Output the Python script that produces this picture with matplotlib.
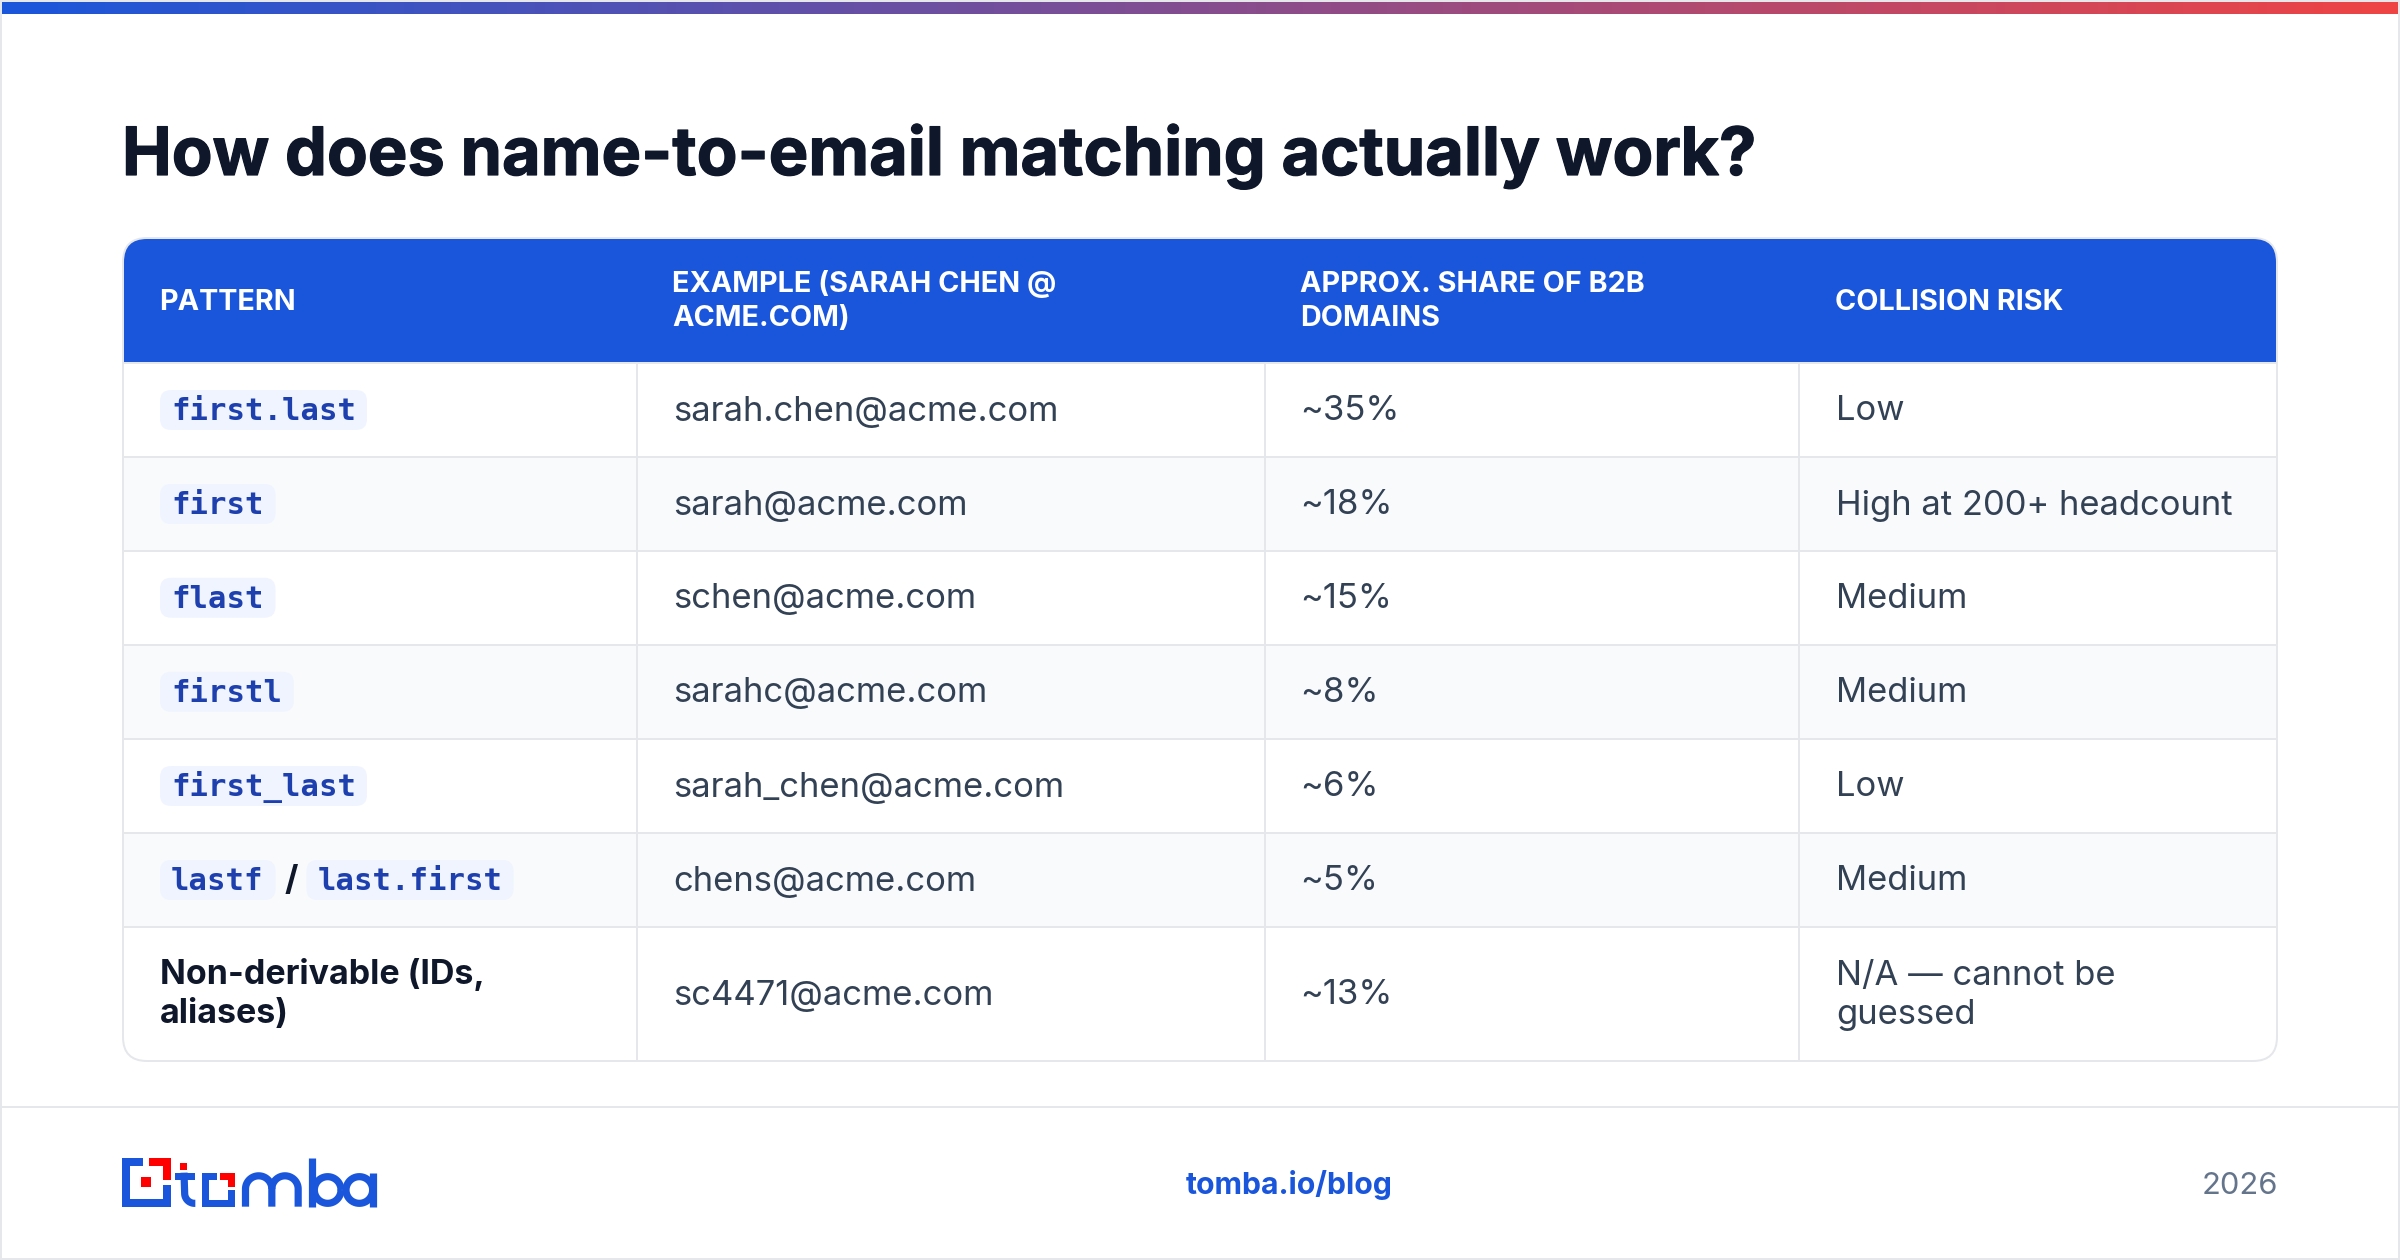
import numpy as np
import matplotlib
matplotlib.use("Agg")
import matplotlib.pyplot as plt
from matplotlib.colors import LinearSegmentedColormap
from matplotlib.patches import FancyBboxPatch, Rectangle
from matplotlib import patheffects

TITLE = "How does name-to-email matching actually work?"
HEADERS = ["PATTERN", "EXAMPLE (SARAH CHEN @\nACME.COM)", "APPROX. SHARE OF B2B\nDOMAINS", "COLLISION RISK"]
PATTERNS = [["first.last"], ["first"], ["flast"], ["firstl"], ["first_last"], ["lastf", "last.first"]]
LAST_PATTERN = "Non-derivable (IDs,\naliases)"
EXAMPLES = ["sarah.chen@acme.com", "sarah@acme.com", "schen@acme.com", "sarahc@acme.com",
            "sarah_chen@acme.com", "chens@acme.com", "sc4471@acme.com"]
SHARES = ["~35%", "~18%", "~15%", "~8%", "~6%", "~5%", "~13%"]
RISKS = ["Low", "High at 200+ headcount", "Medium", "Medium", "Low", "Medium", "N/A \u2014 cannot be\nguessed"]

BLUE = "#1a56db"
RED = "#ff0000"
LINE = "#e5e7eb"
BODY = "#334155"
DARK = "#0f172a"

W, H = 2400, 1260
ROW_EDGES = [363, 457, 551, 644.5, 739, 833, 927, 1061]
COL_EDGES = [123, 637, 1265, 1799, 2277]
TEXT_X = [160, 673, 1301, 1836]
HEAD_X = [159.5, 672, 1300, 1835]


def px(size):
    # font sizes are given in output pixels, figure is 200 dpi
    return size * 72 / 200


fig = plt.figure(figsize=(W / 200, H / 200), dpi=200, facecolor="white")
ax = fig.add_axes([0, 0, 1, 1])
ax.axis("off")

# top gradient bar
cmap = LinearSegmentedColormap.from_list("bar", [BLUE, "#ef4444"])
ax.imshow(np.linspace(0, 1, 512)[None, :], cmap=cmap, extent=(2, W - 2, 14, 2), aspect="auto", zorder=3)
ax.set_xlim(0, W)
ax.set_ylim(H, 0)

# page frame
ax.add_patch(Rectangle((1, 1), W - 2, H - 2, fc="none", ec=LINE, lw=px(2), zorder=2))

title = ax.text(122, 175, TITLE, fontsize=px(66.6), family="Inter", weight="bold", color=DARK, va="baseline")
title.set_path_effects([patheffects.withStroke(linewidth=px(1.2), foreground=DARK)])

# table card
card_box = dict(boxstyle="round,pad=0,rounding_size=24")
card_w, card_h = COL_EDGES[-1] - COL_EDGES[0], 1061 - 238
card = FancyBboxPatch((123, 238), card_w, card_h, fc="white", ec="none", zorder=1, **card_box)
ax.add_patch(card)
header = Rectangle((123, 238), card_w, ROW_EDGES[0] - 238, fc=BLUE, ec="none", zorder=1.1)
ax.add_patch(header)
header.set_clip_path(card)

for i in range(7):
    top, bottom = ROW_EDGES[i], ROW_EDGES[i + 1]
    if i % 2 == 1:
        ax.add_patch(Rectangle((123, top), card_w, bottom - top, fc="#f9fafc", ec="none", zorder=1.1))
    if i < 6:
        ax.plot([123, 2277], [bottom, bottom], color=LINE, lw=px(2), zorder=1.2, solid_capstyle="butt")
ax.plot([123, 2277], [ROW_EDGES[0], ROW_EDGES[0]], color=LINE, lw=px(2), zorder=1.2, solid_capstyle="butt")

for x in COL_EDGES[1:-1]:
    ax.plot([x, x], [ROW_EDGES[0], 1061], color=LINE, lw=px(2), zorder=1.2, solid_capstyle="butt")
ax.add_patch(FancyBboxPatch((123, 238), card_w, card_h, fc="none", ec=LINE, lw=px(2), zorder=1.5, **card_box))

# header labels, baseline alignment anchors the last line
for x, label in zip(HEAD_X, HEADERS):
    y = 325.7 if "\n" in label else 310
    ax.text(x, y, label, fontsize=px(28.8), family="Inter", weight="bold", color="white",
            va="baseline", linespacing=1.32)

# body rows
CHAR_W = 18.3
PILL_X = 160
for i in range(7):
    cy = (ROW_EDGES[i] + ROW_EDGES[i + 1]) / 2
    base = cy + 10.5
    ax.text(TEXT_X[1], base, EXAMPLES[i], fontsize=px(34.7), family="Inter", color=BODY, va="baseline")
    ax.text(TEXT_X[2] - 0.5, base, SHARES[i], fontsize=px(34.7), family="Inter", color=BODY, va="baseline")
    risk_y = 1024 if "\n" in RISKS[i] else base
    ax.text(TEXT_X[3], risk_y, RISKS[i], fontsize=px(34.55), family="Inter", color=BODY, va="baseline", linespacing=1.28)
    if i == 6:
        ax.text(TEXT_X[0], 1023.5, LAST_PATTERN, fontsize=px(33.95), family="Inter", weight="bold", color=DARK,
                va="baseline", linespacing=1.3)
        continue
    x = PILL_X
    for j, name in enumerate(PATTERNS[i]):
        if j > 0:
            ax.text(x + 15.5, base, "/", fontsize=px(34.7), family="Inter", weight="bold", color=DARK,
                    va="baseline", ha="center")
            x += 31
        w = len(name) * CHAR_W + 24
        ax.add_patch(FancyBboxPatch((x, cy - 20), w, 40, boxstyle="round,pad=0,rounding_size=11",
                                    fc="#eff4ff", ec="none", zorder=1.3))
        ax.text(x + 11, cy + 10, name, fontsize=px(30.6), family="DejaVu Sans Mono", weight="bold",
                color="#1e40af", va="baseline", zorder=1.4)
        x += w

# footer
ax.plot([0, W], [1107, 1107], color=LINE, lw=px(2), solid_capstyle="butt")
ax.text(1186, 1194, "tomba.io/blog", fontsize=px(30.2), family="Inter", weight="bold", color=BLUE,
        va="baseline")
ax.text(2278, 1194, "2026", fontsize=px(30.9), family="Inter", color="#64748b", ha="right", va="baseline")


# logo, coordinates measured at 3x from its own corner
def lx(v):
    return 90 + v / 3


def ly(v):
    return 1130 + v / 3


def block(x0, x1, y0, y1, color):
    ax.add_patch(Rectangle((lx(x0), ly(y0)), (x1 - x0) / 3, (y1 - y0) / 3, fc=color, ec="none", zorder=2))


def stroke(xs, ys):
    ax.plot(lx(np.asarray(xs, float)), ly(np.asarray(ys, float)), color=BLUE, lw=px(7.2),
            solid_capstyle="butt", solid_joinstyle="round", zorder=2)


def arc(cx, cy, r, start, end):
    t = np.radians(np.linspace(start, end, 50))
    return cx + r * np.cos(t), cy + r * np.sin(t)


# square mark
block(97, 120, 84, 230, BLUE)
block(97, 160, 84, 107, BLUE)
block(97, 242, 207, 230, BLUE)
block(219, 242, 165, 230, BLUE)
block(177, 242, 84, 107, RED)
block(219, 242, 84, 150, RED)
block(154, 184, 142, 172, RED)
# t
block(271, 291, 99, 119, RED)
block(256, 316, 128, 149, BLUE)
xs, ys = arc(314, 190, 30, 180, 90)
stroke(np.r_[282, xs, 316], np.r_[128, ys, 220])
# o
block(336, 357, 128, 230, BLUE)
block(336, 380, 128, 149, BLUE)
block(336, 436, 209, 230, BLUE)
block(415, 436, 180, 230, BLUE)
block(391, 436, 128, 149, RED)
block(415, 436, 128, 172, RED)
# m
xs, ys = arc(506, 177, 39.5, 180, 360)
stroke(np.r_[466.5, 466.5, xs, 545.5, 545.5], np.r_[230, 177, ys, 177, 230])
xs, ys = arc(585, 177, 39.5, 180, 360)
stroke(np.r_[545.5, xs, 624.5, 624.5], np.r_[177, ys, 177, 230])
# b
stroke([665.5, 665.5], [84, 230])
xs, ys = arc(713, 180, 40, 0, 360)
stroke(xs, ys)
# a
xs, ys = arc(808, 180, 40, 0, 360)
stroke(xs, ys)
stroke([847.5, 847.5], [128, 230])

fig.savefig("out.png", dpi=200, facecolor="white")
